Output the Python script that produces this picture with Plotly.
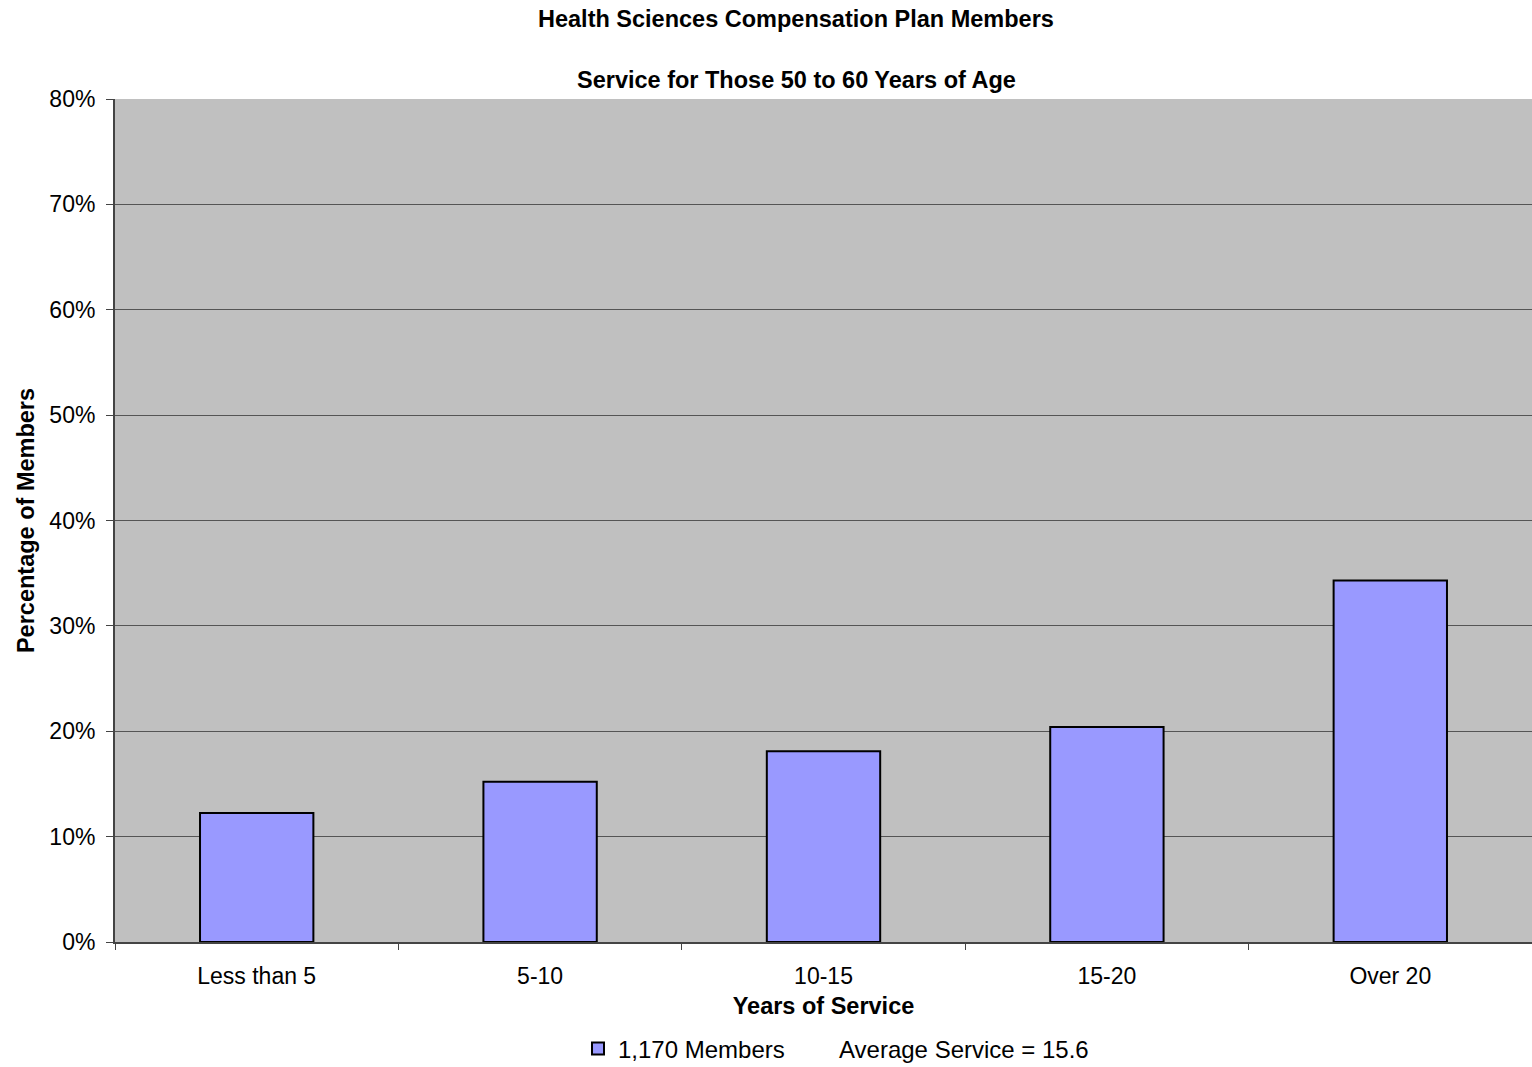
import plotly.graph_objects as go

categories = ["Less than 5", "5-10", "10-15", "15-20", "Over 20"]
percentages = [12.25, 15.2, 18.1, 20.4, 34.3]
legend_members = "1,170 Members"
legend_average = "Average Service = 15.6"
y_ticks = [0, 10, 20, 30, 40, 50, 60, 70, 80]
y_ticklabels = [f"{v}%" for v in y_ticks]

FONT = "Liberation Sans, Arial, sans-serif"

fig = go.Figure()
fig.add_trace(go.Bar(
    x=categories, y=percentages, name=legend_members,
    marker=dict(color="#9999ff", line=dict(color="black", width=2)),
    width=0.4,
))

fig.update_layout(
    width=1532, height=1067,
    margin=dict(l=115, r=0, t=99, b=125, autoexpand=False),
    paper_bgcolor="white", plot_bgcolor="#c0c0c0",
    font=dict(family=FONT, size=23, color="black"),
    showlegend=True,
    legend=dict(orientation="h", x=(790 - 115) / 1417, xanchor="right",
                y=-(1049 - 942) / 843, yanchor="middle",
                font=dict(size=24), itemwidth=30, bgcolor="rgba(0,0,0,0)"),
    bargap=0.6,
    annotations=[
        dict(text="<b>Health Sciences Compensation Plan Members</b>", xref="paper", yref="paper",
             x=(796 - 115) / 1417, y=(942 - 19) / 843, xanchor="center", yanchor="middle",
             showarrow=False, font=dict(size=23.5)),
        dict(text="<b>Service for Those 50 to 60 Years of Age</b>", xref="paper", yref="paper",
             x=(796 - 115) / 1417, y=(942 - 80) / 843, xanchor="center", yanchor="middle",
             showarrow=False, font=dict(size=23.5)),
        dict(text=legend_average, xref="paper", yref="paper",
             x=(837 - 115) / 1417, y=-(1049 - 942) / 843, xanchor="left", yanchor="middle",
             showarrow=False, font=dict(size=24)),
    ],
)
fig.update_xaxes(
    type="category", tickson="boundaries", ticks="outside", ticklen=6, tickcolor="#444",
    showline=True, linecolor="#444", linewidth=2, showgrid=False,
    tickfont=dict(size=23), ticklabelstandoff=12,
    title=dict(text="<b>Years of Service</b>", font=dict(size=23.5), standoff=10),
)
fig.update_yaxes(
    range=[0, 80], tickvals=y_ticks, ticktext=y_ticklabels,
    ticks="outside", ticklen=7, tickcolor="#444",
    showline=True, linecolor="#444", linewidth=2,
    showgrid=True, gridcolor="#555", gridwidth=1, zeroline=False,
    tickfont=dict(size=23), ticklabelstandoff=6,
    title=dict(text="<b>Percentage of Members</b>", font=dict(size=23.5), standoff=8),
)
fig.write_html("out.html")
